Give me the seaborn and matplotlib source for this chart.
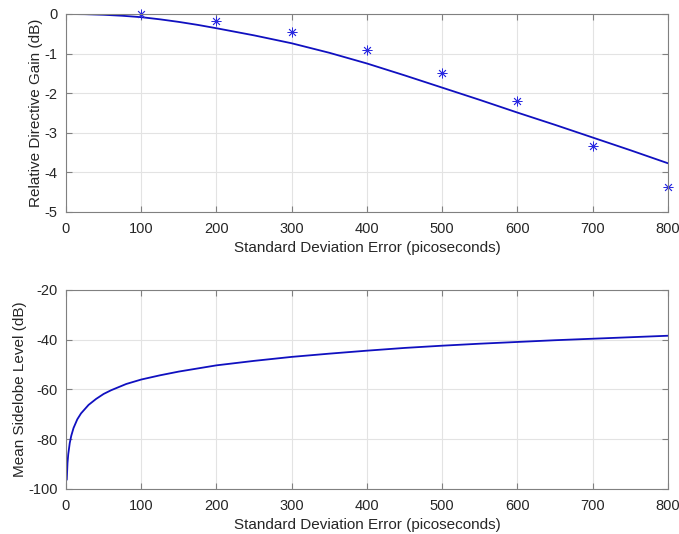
"""
Directive gain and sidelobe level vs timing error
"""

import numpy as np
import pandas as pd
import matplotlib
matplotlib.use('Agg')
import matplotlib.pyplot as plt
import seaborn as sns

# Top panel: theory curve and simulated points
gain_sigma = [0, 25, 50, 75, 100, 125, 150, 175, 200, 250, 300, 350, 400, 450, 500,
              550, 600, 650, 700, 750, 800]
gain_db = [0, -0.005, -0.02, -0.045, -0.08, -0.135, -0.2, -0.275, -0.36, -0.54, -0.74,
           -0.98, -1.25, -1.55, -1.86, -2.17, -2.49, -2.8, -3.12, -3.44, -3.77]
sim_sigma = [100, 200, 300, 400, 500, 600, 700, 800]
sim_db = [-0.01, -0.18, -0.46, -0.9, -1.49, -2.19, -3.33, -4.38]

# Bottom panel: mean sidelobe level
sll_sigma = [1, 2, 3, 5, 7, 10, 15, 20, 30, 40, 50, 60, 80, 100, 125, 150, 200, 250,
             300, 350, 400, 450, 500, 550, 600, 650, 700, 750, 800]
sll_db = [-96.3, -89.5, -86, -81.5, -78.6, -75.5, -72, -69.6, -66.2, -63.8, -61.8,
          -60.3, -57.8, -56, -54.3, -52.8, -50.3, -48.5, -46.9, -45.6, -44.4, -43.3,
          -42.4, -41.6, -40.9, -40.2, -39.6, -39.0, -38.4]

xticks = [0, 100, 200, 300, 400, 500, 600, 700, 800]

sns.set_style('white')
plt.rcParams['font.family'] = ['Liberation Sans', 'DejaVu Sans']
plt.rcParams['axes.unicode_minus'] = False

blue = '#1010c0'
edge = '#808080'
txt = '#262626'

fig = plt.figure(figsize=(6.79, 5.34), dpi=100)
ax1 = fig.add_axes([0.0972, 0.603, 0.8866, 0.3708])
ax2 = fig.add_axes([0.0972, 0.0843, 0.8866, 0.3727])

df_gain = pd.DataFrame({'sigma': gain_sigma, 'db': gain_db})
df_sim = pd.DataFrame({'sigma': sim_sigma, 'db': sim_db})
df_sll = pd.DataFrame({'sigma': sll_sigma, 'db': sll_db})

sns.lineplot(data=df_gain, x='sigma', y='db', ax=ax1, color=blue, linewidth=1.3)
ax1.plot(df_sim['sigma'], df_sim['db'], linestyle='none', marker=(8, 2, 0),
         markersize=7, color='#2a2ae0', markeredgewidth=0.6, clip_on=False)
sns.lineplot(data=df_sll, x='sigma', y='db', ax=ax2, color=blue, linewidth=1.3)

ax1.set_ylim(-5, 0)
ax1.set_yticks([0, -1, -2, -3, -4, -5])
ax1.set_ylabel('Relative Directive Gain (dB)', color=txt, fontsize=11)
ax2.set_ylim(-100, -20)
ax2.set_yticks([-20, -40, -60, -80, -100])
ax2.set_ylabel('Mean Sidelobe Level (dB)', color=txt, fontsize=11)

for ax in (ax1, ax2):
    ax.set_xlim(0, 800)
    ax.set_xticks(xticks)
    ax.set_xlabel('Standard Deviation Error (picoseconds)', color=txt, fontsize=11)
    ax.grid(True, color='#e3e3e3', linewidth=0.8)
    ax.set_axisbelow(True)
    for sp in ax.spines.values():
        sp.set_color(edge)
        sp.set_linewidth(0.8)
    ax.tick_params(direction='in', length=4, color=edge, labelcolor=txt,
                   top=True, right=True, bottom=True, left=True, labelsize=10.5)
    ax.tick_params(axis='x', pad=7)
    ax.tick_params(axis='y', pad=6)
    ax.xaxis.labelpad = 4
    ax.yaxis.labelpad = 1

fig.savefig('out.png', dpi=100)
